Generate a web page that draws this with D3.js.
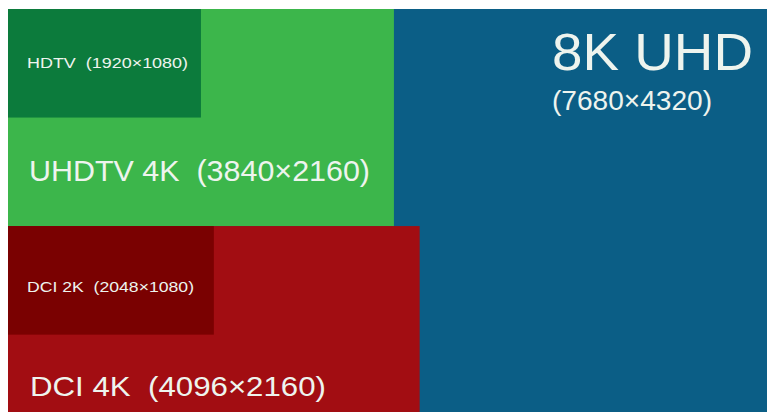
<!DOCTYPE html>
<html>
<head>
<meta charset="utf-8">
<script src="https://cdn.jsdelivr.net/npm/d3@7"></script>
<style>
  html, body { margin: 0; padding: 0; background: #fff; }
  svg { display: block; }
  text { font-family: "Liberation Sans", Arial, sans-serif; white-space: pre; }
</style>
</head>
<body>
<div id="chart"></div>
<script>
// resolution formats, drawn biggest first so the small ones sit on top
var formats  = ["8K UHD", "UHDTV 4K", "HDTV", "DCI 4K", "DCI 2K"];
var resW     = [7680, 3840, 1920, 4096, 2048];
var resH     = [4320, 2160, 1080, 2160, 1080];
var rowStart = [0, 0, 0, 2160, 2160];   // DCI formats stack below UHDTV 4K
var colors   = ["#0b5e86", "#3cb64b", "#0c7b3c", "#a20d12", "#7a0101"];

var w = 767, h = 412;
var k = 0.1005; // px per pixel of resolution

var x = d3.scaleLinear().domain([0, 7680]).range([8, 8 + 7680 * k]);
var y = d3.scaleLinear().domain([0, 4320]).range([9, 9 + 4320 * k]);

// label placement: offset from rect top-left, font size, fitted width
var labelStyle = [
  { dx: 544, dy: 61, size: 51, len: 201, sub: { dy: 101, size: 28, len: 160 } },
  { dx: 21, dy: 172, size: 29.5, len: 341 },
  { dx: 19, dy: 59, size: 14.5, len: 161 },
  { dx: 22, dy: 170, size: 28.5, len: 296 },
  { dx: 19, dy: 66, size: 15, len: 167 }
];

var svg = d3.select("#chart").append("svg")
  .attr("width", w)
  .attr("height", h);

var idx = d3.range(formats.length);

svg.append("g")
  .selectAll("rect")
  .data(idx)
  .enter()
  .append("rect")
  .attr("x", function (i) { return x(0); })
  .attr("y", function (i) { return y(rowStart[i]); })
  .attr("width", function (i) { return x(resW[i]) - x(0); })
  .attr("height", function (i) { return y(resH[i]) - y(0); })
  .attr("fill", function (i) { return colors[i]; });

var res = function (i) { return "(" + resW[i] + "\u00d7" + resH[i] + ")"; };

var labels = svg.append("g").attr("fill", "#eef4ee");

labels.selectAll("text.main")
  .data(idx)
  .enter()
  .append("text")
  .attr("class", "main")
  .attr("x", function (i) { return x(0) + labelStyle[i].dx; })
  .attr("y", function (i) { return y(rowStart[i]) + labelStyle[i].dy; })
  .attr("font-size", function (i) { return labelStyle[i].size + "px"; })
  .attr("textLength", function (i) { return labelStyle[i].len; })
  .attr("lengthAdjust", "spacingAndGlyphs")
  .text(function (i) { return i === 0 ? formats[i] : formats[i] + "  " + res(i); });

// 8K gets its resolution on a second line
var big = labelStyle[0];
labels.append("text")
  .attr("x", x(0) + big.dx)
  .attr("y", y(rowStart[0]) + big.sub.dy)
  .attr("font-size", big.sub.size + "px")
  .attr("textLength", big.sub.len)
  .attr("lengthAdjust", "spacingAndGlyphs")
  .text(res(0));
</script>
</body>
</html>
